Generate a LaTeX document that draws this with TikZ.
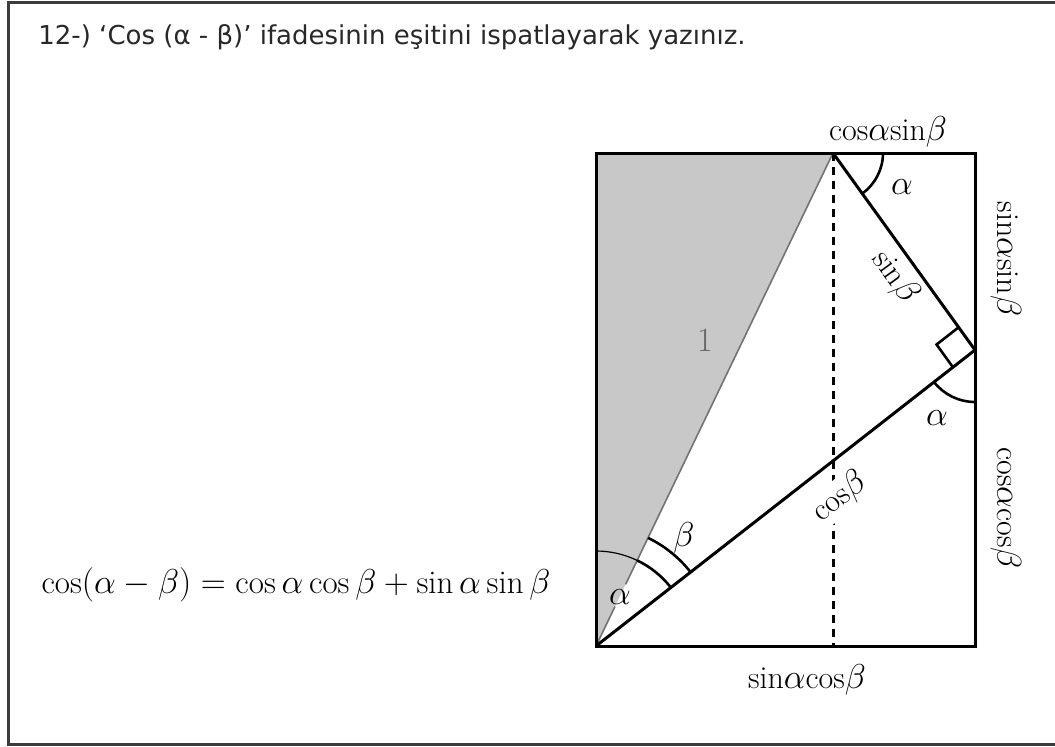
\documentclass[tikz,border=0pt]{standalone}
\usepackage{amsmath}
\usepackage{fontspec}
\usetikzlibrary{calc,angles}
\newfontfamily\titlefont{DejaVu Sans}
\definecolor{framegray}{RGB}{60,60,60}
\definecolor{shadegray}{RGB}{200,200,200}
\definecolor{textgray}{RGB}{40,40,40}
\tikzset{
    figline/.style={
        line width=1.5pt,
        draw=black
    },
    sideline/.style={
        line width=0.8pt,
        draw=black!55
    },
    dashline/.style={
        line width=1.5pt,
        dash pattern=on 4pt off 3pt
    },
    anglemark/.style={
        draw,
        line width=1.3pt
    },
    lbl/.style={
        inner sep=1pt,
        font=\fontsize{16}{18}\selectfont
    }
}

\begin{document}
\begin{tikzpicture}[
    x=0.5pt,
    y=0.5pt
]
    \useasboundingbox (0,0) rectangle (1055,-746);
    \draw[line width=1.5pt, framegray]
        (1055,-2) -- (8,-2) -- (8,-744) -- (1055,-744);

    \node[
        anchor=west,
        inner sep=0pt,
        text=textgray,
        font=\titlefont\fontsize{13}{15}\selectfont
    ] (title) at (38,-37)
        {12-) ‘Cos (α - β)’ ifadesinin eşitini ispatlayarak yazınız.};

    \coordinate (O) at (596,-646);
    \coordinate (TL) at (596,-153);
    \coordinate (T) at (833,-153);
    \coordinate (TR) at (975,-153);
    \coordinate (R) at (975,-350);
    \coordinate (BR) at (975,-646);
    \coordinate (B) at (833,-646);

    \fill[shadegray] (O) -- (TL) -- (T) -- cycle;
    \draw[sideline] (O) -- ($(O)!0.08!(T)$);
    \draw[sideline] ($(O)!0.125!(T)$) -- (T);
    \draw[dashline] (T) -- (B);
    \draw[figline] (O) rectangle (TR);
    \draw[figline] (T) -- (R) -- (O);

    \pic[draw, line width=0.6pt, angle radius=47.5pt] {angle=T--O--TL};
    \pic[anglemark, angle radius=47.5pt] {angle=R--O--T};
    \pic[anglemark, angle radius=60pt] {angle=R--O--T};
    \pic[anglemark, angle radius=25pt] {angle=R--T--TR};
    \pic[anglemark, angle radius=26pt] {angle=O--R--BR};
    \pic[anglemark, angle radius=14pt] {right angle=T--R--O};

    \node[lbl] (alphaO) at (620,-597) {$\alpha$};
    \node[lbl] (betaO) at (684,-538) {$\beta$};
    \node[lbl] (alphaT) at (902,-187) {$\alpha$};
    \node[lbl] (alphaR) at (937,-418) {$\alpha$};
    \node[lbl, text=black!60, font=\fontsize{17}{19}\selectfont] (one)
        at (705,-340) {1};
    \node[lbl, rotate=-54] (sinb) at (895,-277) {$\mathrm{sin}\beta$};
    \node[lbl, rotate=38, fill=white] (cosb) at (840,-497) {$\mathrm{cos}\beta$};

    \node[lbl] (topside) at (888,-132)
        {$\mathrm{cos}\alpha\mathrm{sin}\beta$};
    \node[lbl, rotate=-90] (rightup) at (1006,-259)
        {$\mathrm{sin}\alpha\mathrm{sin}\beta$};
    \node[lbl, rotate=-90] (rightdown) at (1006,-508)
        {$\mathrm{cos}\alpha\mathrm{cos}\beta$};
    \node[lbl] (bottomside) at (807,-680)
        {$\mathrm{sin}\alpha\mathrm{cos}\beta$};

    \node[font=\fontsize{16.5}{19}\selectfont] (formula) at (296,-585)
        {$\cos(\alpha-\beta)=\cos\alpha\cos\beta+\sin\alpha\sin\beta$};
\end{tikzpicture}
\end{document}
